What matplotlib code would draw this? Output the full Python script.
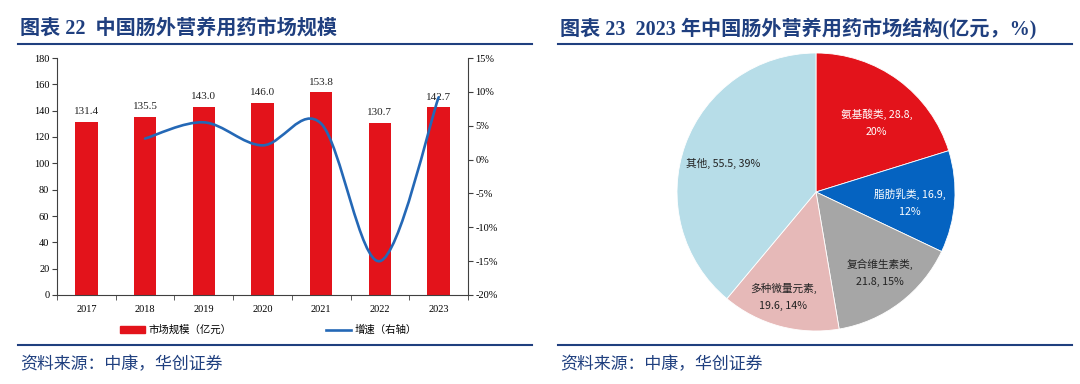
import matplotlib
matplotlib.use("Agg")
import matplotlib.pyplot as plt
import numpy as np
from matplotlib.path import Path
from matplotlib.patches import PathPatch, Patch
from matplotlib.lines import Line2D

# ---------------- data ----------------
years = ["2017", "2018", "2019", "2020", "2021", "2022", "2023"]
market_size = [131.4, 135.5, 143.0, 146.0, 153.8, 130.7, 142.7]
growth_years = ["2018", "2019", "2020", "2021", "2022", "2023"]
growth_pct = [3.1, 5.5, 2.1, 5.3, -15.0, 9.2]

pie_names = ["氨基酸类", "脂肪乳类", "复合维生素类", "多种微量元素", "其他"]
pie_values = [28.8, 16.9, 21.8, 19.6, 55.5]
pie_pcts = [20, 12, 15, 14, 39]

left_yticks = [0, 20, 40, 60, 80, 100, 120, 140, 160, 180]
right_yticks = [-20, -15, -10, -5, 0, 5, 10, 15]

# ---------------- styles ----------------
W, H = 1080, 384
NAVY = "#1F3F7F"
RED = "#E3131B"
LINE_BLUE = "#2468B6"
pie_colors = ["#E3131B", "#0563C1", "#A6A6A6", "#E6B9B8", "#B7DDE8"]
pie_text_colors = ["white", "white", "#222222", "#222222", "#222222"]
pie_label_break = ["value", "value", "name", "name", None]
pie_label_r = [0.66, 0.68, 0.74, 0.79, 0.70]
pie_label_dang = [-5, -2.6, 1.2, -2.2, 3]

SERIF = ["Liberation Serif", "Noto Sans CJK SC"]
SANS = ["Noto Sans CJK SC", "DejaVu Sans"]

fig = plt.figure(figsize=(W / 100, H / 100), dpi=100)


def fx(px):
    return px / W


def fy(py):
    return 1 - py / H


# ---------------- headers / rules ----------------
fig.text(fx(20), fy(29), "图表 22  中国肠外营养用药市场规模", family=SERIF,
         fontweight="bold", fontsize=14.5, color=NAVY, va="center", ha="left")
fig.text(fx(560), fy(29), "图表 23  2023 年中国肠外营养用药市场结构(亿元，%)", family=SERIF,
         fontweight="bold", fontsize=14.5, color=NAVY, va="center", ha="left")
for x0, x1 in [(18, 532), (558, 1072)]:
    for yy in (44, 345):
        fig.add_artist(Line2D([fx(x0), fx(x1)], [fy(yy), fy(yy)], color=NAVY, lw=1.5))
    fig.text(fx(x0 + 2), fy(364), "资料来源：中康，华创证券", family=SANS,
             fontsize=12.2, color=NAVY, va="center", ha="left", style="italic")

# ---------------- bar + line chart ----------------
ax = fig.add_axes([fx(57), fy(295), fx(468) - fx(57), fy(58) - fy(295)])
x = np.arange(len(years))
bars = ax.bar(x, market_size, width=0.38, color=RED, zorder=2)
ax.set_xlim(-0.5, len(years) - 0.5)
ax.set_ylim(0, 180)
ax.set_yticks(left_yticks)
ax.set_xticks(x)
ax.set_xticklabels(years)
ax.set_xticks(np.arange(len(years) + 1) - 0.5, minor=True)
ax.tick_params(axis="x", which="major", length=0, pad=7)
ax.tick_params(axis="x", which="minor", length=3.5, direction="out", color="#404040")
ax.tick_params(axis="y", length=3.5, direction="out", color="#404040", pad=2)
for lab in ax.get_xticklabels() + ax.get_yticklabels():
    lab.set_family(SERIF)
    lab.set_fontsize(7.5)
for s in ["top", "right"]:
    ax.spines[s].set_visible(False)
for s in ["left", "bottom"]:
    ax.spines[s].set_color("#404040")
    ax.spines[s].set_linewidth(0.8)
for b, v in zip(bars, market_size):
    ax.annotate(f"{v:.1f}", (b.get_x() + b.get_width() / 2, v), xytext=(0, 4),
                textcoords="offset points", ha="center", va="bottom",
                family=SERIF, fontsize=8, color="#222222")

ax2 = ax.twinx()
ax2.set_ylim(-20, 15)
ax2.set_yticks(right_yticks)
ax2.set_yticklabels([f"{t}%" for t in right_yticks])
ax2.tick_params(axis="y", length=3.5, direction="out", color="#404040", pad=2)
for lab in ax2.get_yticklabels():
    lab.set_family(SERIF)
    lab.set_fontsize(7.5)
for s in ["top", "left", "bottom"]:
    ax2.spines[s].set_visible(False)
ax2.spines["right"].set_color("#404040")
ax2.spines["right"].set_linewidth(0.8)

# smoothed (Excel-like) growth line as a Bezier path through the data points
gx = np.array([years.index(g) for g in growth_years], dtype=float)
gy = np.array(growth_pct, dtype=float)
P = np.column_stack([gx, gy])
n = len(P)
verts = [tuple(P[0])]
codes = [Path.MOVETO]
for i in range(n - 1):
    pm = P[i - 1] if i > 0 else P[i]
    pn2 = P[i + 2] if i + 2 < n else P[i + 1]
    c1 = P[i] + (P[i + 1] - pm) / 6
    c2 = P[i + 1] - (pn2 - P[i]) / 6
    verts += [tuple(c1), tuple(c2), tuple(P[i + 1])]
    codes += [Path.CURVE4] * 3
ax2.add_patch(PathPatch(Path(verts, codes), fill=False, edgecolor=LINE_BLUE,
                        lw=1.9, zorder=3, capstyle="round"))

handles = [Patch(color=RED), Line2D([], [], color=LINE_BLUE, lw=1.9)]
fig.legend(handles, ["市场规模（亿元）", "增速（右轴）"], loc="center left",
           bbox_to_anchor=(fx(120), fy(330)), ncol=2, frameon=False,
           prop={"family": SANS, "size": 7.5}, handlelength=2.4,
           handletextpad=0.3, columnspacing=9.1, borderpad=0, borderaxespad=0)

# ---------------- pie chart ----------------
R = 139
cx, cy = 816, 192
pax = fig.add_axes([fx(cx - R), fy(cy + R), 2 * R / W, 2 * R / H])
wedges, _ = pax.pie(pie_values, colors=pie_colors, startangle=90, counterclock=False,
                    radius=1, wedgeprops=dict(edgecolor="white", linewidth=0.6))
pax.set_xlim(-1, 1)
pax.set_ylim(-1, 1)
pax.set_aspect("equal")
pax.axis("off")
for w, name, v, p, tc, br, r, da in zip(wedges, pie_names, pie_values, pie_pcts,
                                         pie_text_colors, pie_label_break,
                                         pie_label_r, pie_label_dang):
    ang = np.deg2rad((w.theta1 + w.theta2) / 2 + da)
    if br == "value":
        txt = f"{name}, {v},\n{p}%"
    elif br == "name":
        txt = f"{name},\n{v}, {p}%"
    else:
        txt = f"{name}, {v}, {p}%"
    pax.text(r * np.cos(ang), r * np.sin(ang), txt,
             ha="center", va="center", family=SANS, fontsize=7.7, color=tc,
             linespacing=1.9)

fig.savefig("out.png", dpi=100)
